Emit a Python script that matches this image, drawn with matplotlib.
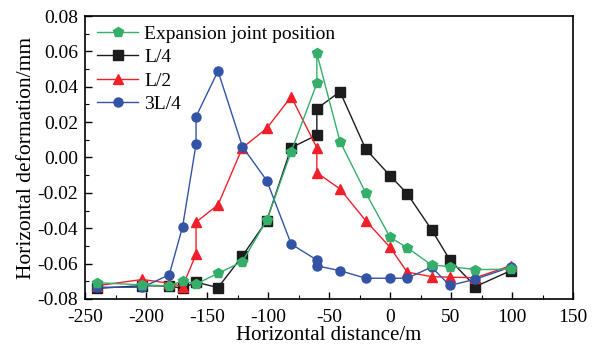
import numpy as np
import matplotlib
import matplotlib.pyplot as plt
from matplotlib.ticker import MultipleLocator
matplotlib.use('Agg')

plt.rcParams['font.family'] = ['Liberation Serif', 'DejaVu Serif']
plt.rcParams['axes.unicode_minus'] = False

# positions along the bridge (m)
x_joint = [-240, -203, -181, -170, -159, -141, -121, -101, -81, -60, -60,
           -41, -20, 0, 14, 34, 49, 70, 99]
y_joint = [-0.0708, -0.0721, -0.0726, -0.0698, -0.0716, -0.0655, -0.0589,
           -0.0353, 0.0033, 0.0419, 0.0589, 0.0090, -0.0199, -0.0451,
           -0.0510, -0.0608, -0.0617, -0.0634, -0.0632]

x_l4 = [-240, -203, -181, -170, -159, -141, -121, -101, -81, -60, -60,
        -41, -20, 0, 14, 34, 49, 70, 99]
y_l4 = [-0.0740, -0.0725, -0.0727, -0.0740, -0.0705, -0.0736, -0.0557,
        -0.0357, 0.0055, 0.0127, 0.0276, 0.0372, 0.0048, -0.0103,
        -0.0204, -0.0408, -0.0579, -0.0730, -0.0640]

x_l2 = [-240, -203, -181, -170, -159, -159, -141, -121, -101, -81, -60, -60,
        -41, -20, 0, 14, 34, 49, 70, 99]
y_l2 = [-0.0725, -0.0690, -0.0711, -0.0730, -0.0547, -0.0366, -0.0268,
        0.0055, 0.0165, 0.0344, 0.0055, -0.0086, -0.0178, -0.0357,
        -0.0508, -0.0648, -0.0674, -0.0677, -0.0680, -0.0612]

x_3l4 = [-240, -203, -181, -170, -159, -159, -141, -121, -101, -81, -60, -60,
         -41, -20, 0, 14, 34, 49, 70, 99]
y_3l4 = [-0.0734, -0.0734, -0.0664, -0.0391, 0.0076, 0.0231, 0.0489,
         0.0061, -0.0131, -0.0490, -0.0580, -0.0613, -0.0640, -0.0683,
         -0.0683, -0.0683, -0.0620, -0.0724, -0.0688, -0.0620]

green = '#35AE6A'
black = '#1C1C1C'
red = '#F0202A'
blue = '#3353A6'

fig = plt.figure(figsize=(5.92, 3.48), dpi=100)
ax = fig.add_axes([0.1436, 0.141, 0.8244, 0.813])

ms = 6.5
l1, = ax.plot(x_l4, y_l4, color=black, marker='s', ms=ms, lw=1.0,
              label='L/4')
l2, = ax.plot(x_l2, y_l2, color=red, marker='^', ms=ms + 0.5, lw=1.0,
              label='L/2')
l3, = ax.plot(x_3l4, y_3l4, color=blue, marker='o', ms=ms, lw=1.0,
              label='3L/4')
l0, = ax.plot(x_joint, y_joint, color=green, marker='p', ms=ms + 1, lw=1.0,
              label='Expansion joint position')

ax.legend(handles=[l0, l1, l2, l3], loc='upper left', frameon=False,
          fontsize=14, handlelength=2.15, handletextpad=0.3,
          labelspacing=0.3, borderaxespad=0.0,
          bbox_to_anchor=(0.008, 0.995))

ax.set_xlim(-250, 150)
ax.set_ylim(-0.08, 0.08)
ax.xaxis.set_major_locator(MultipleLocator(50))
ax.xaxis.set_minor_locator(MultipleLocator(25))
ax.yaxis.set_major_locator(MultipleLocator(0.02))
ax.yaxis.set_minor_locator(MultipleLocator(0.01))
ax.yaxis.set_major_formatter(matplotlib.ticker.FormatStrFormatter('%.2f'))
ax.tick_params(which='both', direction='in', labelsize=14)
ax.tick_params(axis='x', pad=7)
ax.tick_params(axis='y', pad=5)
ax.tick_params(which='major', length=5, width=1)
ax.tick_params(which='minor', length=3, width=0.8)
for s in ax.spines.values():
    s.set_linewidth(1.2)

ax.set_xlabel('Horizontal distance/m', fontsize=15, labelpad=0)
ax.set_ylabel('Horizontal deformation/mm', fontsize=15.5, labelpad=1)

fig.savefig('out.png', dpi=100)
